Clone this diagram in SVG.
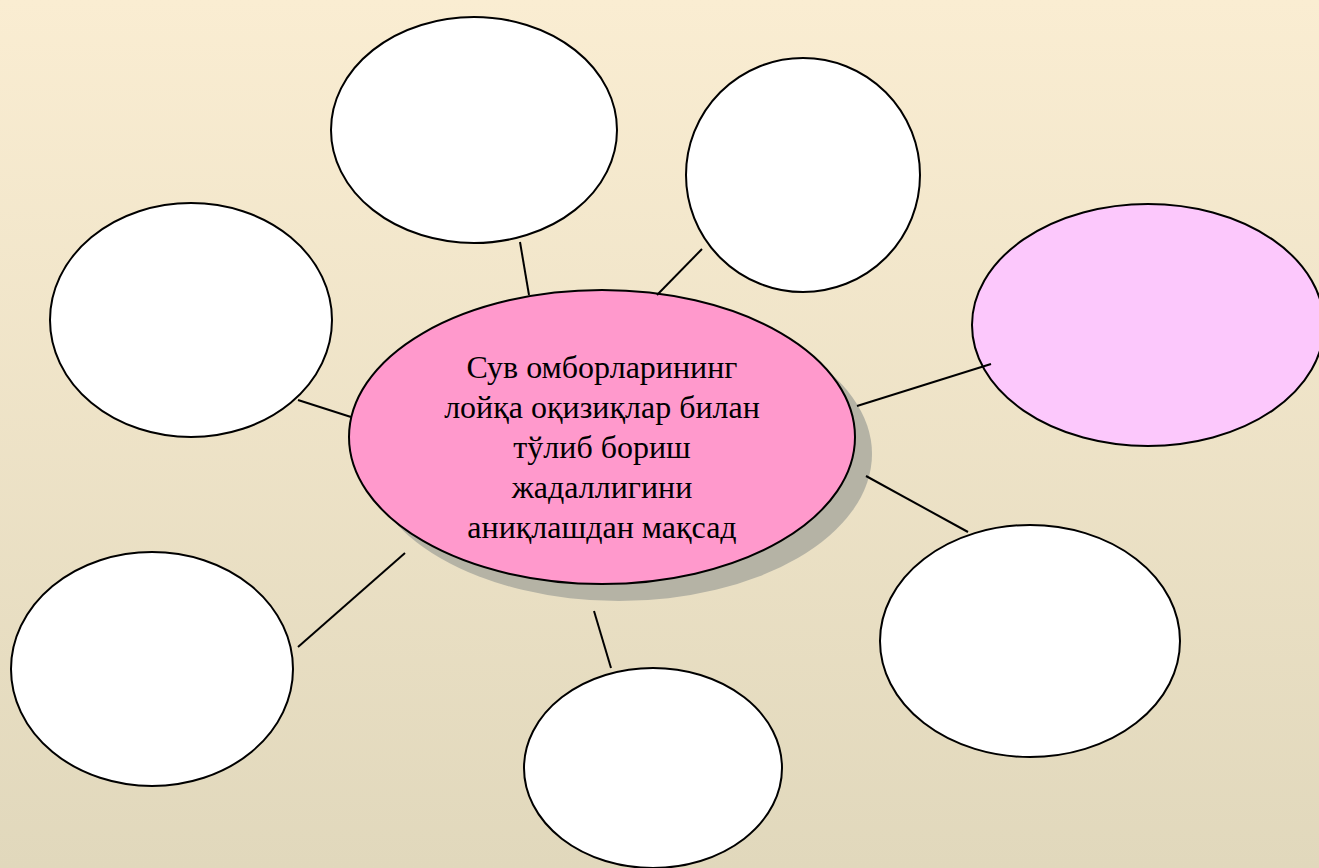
<svg xmlns="http://www.w3.org/2000/svg" width="1319" height="868" viewBox="0 0 1319 868">
<defs>
<linearGradient id="bg" x1="0" y1="0" x2="0" y2="1">
<stop offset="0" stop-color="#faedd2"/>
<stop offset="1" stop-color="#e1d8bc"/>
</linearGradient>
<style>
.n{fill:#ffffff;stroke:#000;stroke-width:2}
.c line{stroke:#000;stroke-width:2}
.t{font-family:"Liberation Serif","Times New Roman",serif;font-size:32px;fill:#000;text-anchor:middle}
</style>
</defs>
<rect width="1319" height="868" fill="url(#bg)"/>
<g id="n1"><ellipse class="n" cx="474" cy="130" rx="143" ry="113"/></g>
<g id="n2"><ellipse class="n" cx="803" cy="175" rx="117" ry="117"/></g>
<g id="n3"><ellipse class="n" cx="191" cy="320" rx="141" ry="117"/></g>
<g id="n4"><ellipse class="n" cx="1148" cy="325" rx="176" ry="121" style="fill:#fcc8fc"/></g>
<g id="n6"><ellipse class="n" cx="152" cy="669" rx="141" ry="117"/></g>
<g id="n7"><ellipse class="n" cx="653" cy="768" rx="129" ry="100"/></g>
<g id="n8"><ellipse class="n" cx="1030" cy="641" rx="150" ry="116"/></g>
<g id="center">
<ellipse cx="619" cy="454" rx="253" ry="147" fill="#b5b3a5"/>
<ellipse class="n" cx="602" cy="437" rx="253" ry="147" style="fill:#ff99cc"/>
<text class="t" x="602" y="378">Сув омборларининг</text>
<text class="t" x="602" y="418">лойқа оқизиқлар билан</text>
<text class="t" x="602" y="458">тўлиб бориш</text>
<text class="t" x="602" y="498">жадаллигини</text>
<text class="t" x="602" y="538">аниқлашдан мақсад</text>
</g>
<g class="c" id="connectors">
<line x1="520" y1="242" x2="529" y2="295"/>
<line x1="702" y1="249" x2="657" y2="295"/>
<line x1="298" y1="400" x2="351" y2="417"/>
<line x1="857" y1="406" x2="991" y2="364"/>
<line x1="866" y1="476" x2="968" y2="532"/>
<line x1="405" y1="553" x2="298" y2="647"/>
<line x1="594" y1="611" x2="611" y2="668"/>
</g>
</svg>
